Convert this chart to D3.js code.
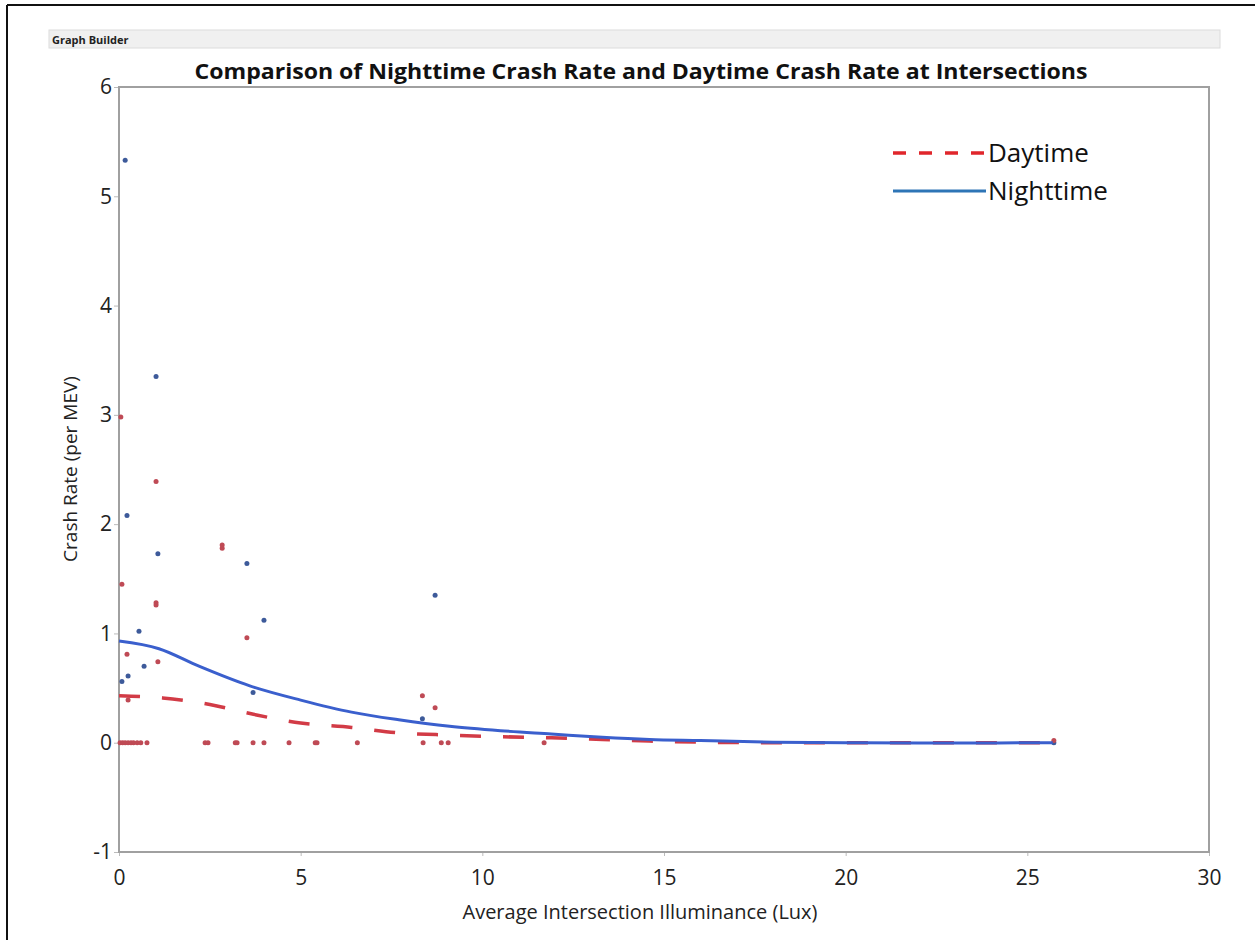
<!DOCTYPE html>
<html>
<head>
<meta charset="utf-8">
<script src="https://d3js.org/d3.v7.min.js"></script>
<style>
  body { margin:0; background:#fff; }
  svg text { font-family:"Open Sans", "Noto Sans", sans-serif; }
  .tick text { font-size:21px; fill:#222; }
  .tick line { stroke:#bbb; }
</style>
</head>
<body>
<svg id="chart" width="1255" height="940"></svg>
<script>
  // daytime (red) observations
  var dayX = [0.05, 1.02, 2.84, 2.84, 0.08, 1.02, 1.02, 3.52, 0.22, 1.07, 0.25, 8.35, 8.7, 25.73,
              0.03, 0.1, 0.17, 0.25, 0.33, 0.4, 0.5, 0.6, 0.77, 2.37, 2.45, 3.2, 3.25, 3.69, 3.99,
              4.68, 5.4, 5.45, 6.56, 8.37, 8.87, 9.06, 11.7];
  var dayY = [2.98, 2.39, 1.81, 1.78, 1.45, 1.28, 1.26, 0.96, 0.81, 0.74, 0.39, 0.43, 0.32, 0.02,
              0, 0, 0, 0, 0, 0, 0, 0, 0, 0, 0, 0, 0, 0, 0,
              0, 0, 0, 0, 0, 0, 0, 0];
  // nighttime (blue) observations
  var nightX = [0.17, 1.02, 0.22, 1.07, 3.52, 3.99, 0.55, 0.69, 0.25, 0.08, 3.69, 8.35, 8.7, 25.73];
  var nightY = [5.33, 3.35, 2.08, 1.73, 1.64, 1.12, 1.02, 0.70, 0.61, 0.56, 0.46, 0.22, 1.35, 0.0];

  // smoother curves
  var dayCurveX = [0, 1.2, 2.5, 3.7, 5.0, 6.4, 7.7, 9.1, 10.5, 11.9, 13.3, 14.6, 16, 18, 21, 25.7];
  var dayCurveY = [0.43, 0.41, 0.35, 0.26, 0.18, 0.14, 0.09, 0.07, 0.055, 0.045, 0.03, 0.015, 0.005, 0, 0, 0];
  var nightCurveX = [0, 1.1, 2.2, 3.6, 5.0, 6.4, 7.7, 9.1, 10.5, 11.9, 13.3, 14.6, 16, 18, 20, 22, 25.7];
  var nightCurveY = [0.93, 0.86, 0.70, 0.52, 0.39, 0.28, 0.21, 0.15, 0.11, 0.08, 0.05, 0.03, 0.02, 0.005, 0, -0.003, 0];

  var xTicks = [0, 5, 10, 15, 20, 25, 30];
  var yTicks = [-1, 0, 1, 2, 3, 4, 5, 6];

  var dayColor = "#d23b46", nightColor = "#3a5fcd";

  var svg = d3.select("#chart");

  // outer border lines (top + left)
  svg.append("line").attr("x1", 7).attr("y1", 5).attr("x2", 1255).attr("y2", 5)
    .style("stroke", "#111").style("stroke-width", 2);
  svg.append("line").attr("x1", 7).attr("y1", 5).attr("x2", 7).attr("y2", 940)
    .style("stroke", "#111").style("stroke-width", 2);

  // Graph Builder header bar
  svg.append("rect").attr("x", 49).attr("y", 30).attr("width", 1171).attr("height", 18)
    .style("fill", "#f0f0f0").style("stroke", "#dcdcdc");
  svg.append("text").attr("x", 52).attr("y", 44)
    .style("font-size", "11px").style("font-weight", "bold").style("fill", "#222")
    .text("Graph Builder");

  // title
  svg.append("text").attr("x", 641).attr("y", 79)
    .attr("textLength", 893).attr("lengthAdjust", "spacingAndGlyphs")
    .style("text-anchor", "middle").style("font-size", "22px").style("font-weight", "bold")
    .style("fill", "#111")
    .text("Comparison of Nighttime Crash Rate and Daytime Crash Rate at Intersections");

  var x = d3.scaleLinear().domain([0, 30]).range([119, 1209]);
  var y = d3.scaleLinear().domain([-1, 6]).range([852, 87]);
  var fmt = function(d){ return String(d); };

  // axes
  svg.append("g").attr("transform", "translate(119,0)")
    .call(d3.axisLeft(y).tickValues(yTicks).tickFormat(fmt).tickSize(5).tickPadding(2))
    .call(function(g){ g.select(".domain").remove(); });
  svg.append("g").attr("transform", "translate(0,852)")
    .call(d3.axisBottom(x).tickValues(xTicks).tickFormat(fmt).tickSize(4).tickPadding(14))
    .call(function(g){ g.select(".domain").remove(); });

  // frame
  svg.append("rect").attr("x", 119).attr("y", 87).attr("width", 1090).attr("height", 765)
    .style("fill", "none").style("stroke", "#a0a0a0").style("stroke-width", 2);

  // axis titles
  svg.append("text").attr("x", 640).attr("y", 919)
    .style("text-anchor", "middle").style("font-size", "20px").style("fill", "#222")
    .text("Average Intersection Illuminance (Lux)");
  svg.append("text").attr("transform", "translate(77,469) rotate(-90)")
    .style("text-anchor", "middle").style("font-size", "19px").style("fill", "#222")
    .text("Crash Rate (per MEV)");

  // points
  svg.append("g").selectAll("circle")
    .data(d3.range(nightX.length)).enter().append("circle")
    .attr("cx", function(i){ return x(nightX[i]); })
    .attr("cy", function(i){ return y(nightY[i]); })
    .attr("r", 2.5)
    .style("fill", "#3d5a9a");
  svg.append("g").selectAll("circle")
    .data(d3.range(dayX.length)).enter().append("circle")
    .attr("cx", function(i){ return x(dayX[i]); })
    .attr("cy", function(i){ return y(dayY[i]); })
    .attr("r", 2.5)
    .style("fill", "#bf4a55");

  // smoother lines
  var line = d3.line().curve(d3.curveMonotoneX);
  svg.append("path")
    .attr("d", line(dayCurveX.map(function(v, i){ return [x(v), y(dayCurveY[i])]; })))
    .style("fill", "none").style("stroke", dayColor).style("stroke-width", 3.5)
    .style("stroke-dasharray", "21,22");
  svg.append("path")
    .attr("d", line(nightCurveX.map(function(v, i){ return [x(v), y(nightCurveY[i])]; })))
    .style("fill", "none").style("stroke", nightColor).style("stroke-width", 3);

  // legend
  var legend = svg.append("g");
  legend.append("line").attr("x1", 893).attr("x2", 986).attr("y1", 153).attr("y2", 153)
    .style("stroke", "#e0262b").style("stroke-width", 3.5).style("stroke-dasharray", "13,13");
  legend.append("line").attr("x1", 893).attr("x2", 986).attr("y1", 191).attr("y2", 191)
    .style("stroke", "#2e75b6").style("stroke-width", 3);
  legend.append("text").attr("x", 988).attr("y", 162)
    .style("font-size", "26px").style("fill", "#111").text("Daytime");
  legend.append("text").attr("x", 988).attr("y", 200)
    .style("font-size", "26px").style("fill", "#111").text("Nighttime");
</script>
</body>
</html>
